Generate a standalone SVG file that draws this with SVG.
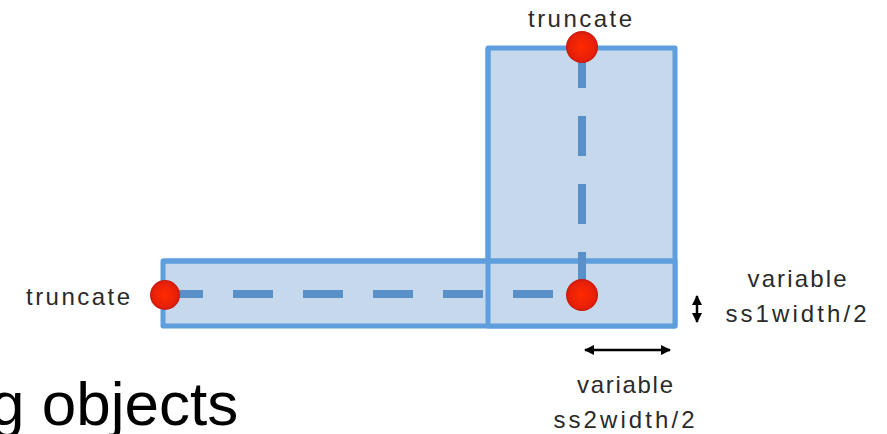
<svg xmlns="http://www.w3.org/2000/svg" width="887" height="434" viewBox="0 0 887 434">
<style>
.bar{fill:#c5d8ec;stroke:#5f9edd;stroke-width:5;stroke-linejoin:round}
.div{stroke:#5f9edd;stroke-width:5;fill:none}
.dash{stroke:#5a90c8;stroke-width:8;fill:none}
.dot{fill:url(#rg)}
.lbl{font-family:"Liberation Sans",Arial,sans-serif;font-size:24px;fill:#2a2a2a;text-anchor:middle}
.big{font-family:"Liberation Sans",Arial,sans-serif;font-size:62px;fill:#000}
.arr{stroke:#000;stroke-width:2.5;fill:none}
</style>
<defs>
<radialGradient id="rg" cx="0.5" cy="0.5" r="0.5">
<stop offset="0" stop-color="#ff2a00"/>
<stop offset="0.8" stop-color="#e82008"/>
<stop offset="1" stop-color="#c81a10"/>
</radialGradient>
<marker id="ah" viewBox="0 0 10 10" refX="9" refY="5" markerWidth="4" markerHeight="4" orient="auto-start-reverse">
<path d="M0,0 L10,5 L0,10 Z" fill="#000"/>
</marker>
</defs>
<g id="vertical-bar"><rect class="bar" x="488" y="48" width="187" height="278"/></g>
<g id="horizontal-bar"><rect class="bar" x="163" y="261" width="512" height="65"/></g>
<g id="dividers">
<line class="div" x1="488" y1="48" x2="488" y2="326"/>
<line class="div" x1="163" y1="261" x2="675" y2="261"/>
</g>
<g id="connectors">
<line class="dash" x1="163" y1="294" x2="582" y2="294" stroke-dasharray="40 30"/>
<line class="dash" x1="582" y1="48" x2="582" y2="294" stroke-dasharray="40 28"/>
<line class="arr" x1="585" y1="350" x2="670" y2="350" marker-start="url(#ah)" marker-end="url(#ah)"/>
<line class="arr" x1="697" y1="296" x2="697" y2="322" marker-start="url(#ah)" marker-end="url(#ah)"/>
</g>
<g id="dot-top"><circle class="dot" cx="582" cy="47" r="16"/></g>
<g id="dot-left"><circle class="dot" cx="165" cy="295" r="15"/></g>
<g id="dot-corner"><circle class="dot" cx="582" cy="295" r="16"/></g>
<g id="labels">
<text class="lbl" x="580" y="27" textLength="104" lengthAdjust="spacing">truncate</text>
<text class="lbl" x="78" y="305" textLength="104" lengthAdjust="spacing">truncate</text>
<text class="lbl" x="797" y="287" textLength="99" lengthAdjust="spacing">variable</text>
<text class="lbl" x="796" y="322" textLength="141" lengthAdjust="spacing">ss1width/2</text>
<text class="lbl" x="625" y="393" textLength="96" lengthAdjust="spacing">variable</text>
<text class="lbl" x="624" y="428" textLength="141" lengthAdjust="spacing">ss2width/2</text>
</g>
<text class="big" x="-10" y="425">g objects</text>
</svg>
